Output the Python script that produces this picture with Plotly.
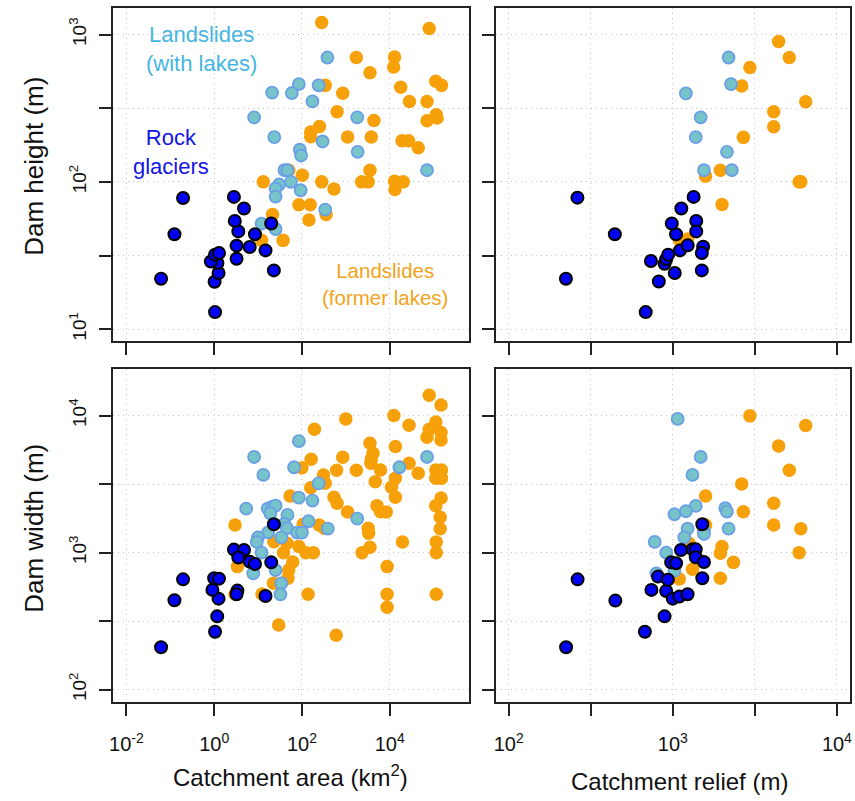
import numpy as np
import plotly.graph_objects as go

# ---------------- data (log10 of values) ----------------
# Top-left: dam height (m) vs catchment area (km2)
tl_rock_area = [-1.21, -0.905, -0.709, 0.02, 0.01, 0.10, 0.075, -0.075, 0.02, 0.11, 0.51,
                0.51, 0.55, 0.47, 0.45, 0.68, 0.81, 0.93, 1.17, 1.30, 1.36]
tl_rock_height = [1.342, 1.644, 1.891, 1.116, 1.322, 1.381, 1.449, 1.460, 1.506, 1.517, 1.478,
                  1.567, 1.664, 1.735, 1.898, 1.819, 1.558, 1.644, 1.535, 1.717, 1.399]
tl_lake_area = [2.58, 1.93, 2.38, 1.32, 1.77, 2.24, 0.91, 3.26, 1.37, 2.47, 3.27, 1.95, 1.98,
                1.60, 1.67, 4.85, 1.75, 1.48, 1.40, 1.97, 1.40, 2.53, 1.08, 1.40]
tl_lake_height = [2.844, 2.664, 2.655, 2.605, 2.603, 2.546, 2.438, 2.438, 2.304, 2.274, 2.204,
                  2.218, 2.179, 2.079, 2.079, 2.079, 2.0, 1.982, 1.955, 1.943, 1.900, 1.812,
                  1.717, 1.680]
tl_former_area = [2.45, 4.90, 3.24, 4.11, 4.09, 3.55, 2.53, 5.05, 5.18, 4.25, 2.93, 4.45, 4.85,
                  2.80, 5.06, 5.08, 4.85, 3.64, 2.40, 2.20, 2.20, 3.04, 3.58, 4.28, 4.43, 4.65,
                  3.55, 1.70, 2.01, 1.12, 2.45, 3.36, 3.51, 4.11, 4.31, 4.12, 2.73, 1.93, 2.19,
                  2.55, 2.16, 1.33, 1.57, 1.08]
tl_former_height = [3.082, 3.041, 2.844, 2.848, 2.780, 2.741, 2.655, 2.683, 2.655, 2.642, 2.601,
                    2.546, 2.546, 2.476, 2.456, 2.433, 2.415, 2.417, 2.376, 2.338, 2.306, 2.304,
                    2.304, 2.279, 2.279, 2.231, 2.079, 2.079, 2.045, 2.0, 2.0, 2.0, 2.0, 2.005,
                    2.0, 1.948, 1.952, 1.844, 1.844, 1.778, 1.741, 1.778, 1.603, 1.603]

# Top-right: dam height (m) vs catchment relief (m)
tr_rock_relief = [2.419, 2.647, 2.349, 2.835, 2.915, 2.867, 2.950, 2.960, 2.972, 3.012, 3.044,
                  3.091, 3.020, 2.994, 3.052, 3.127, 3.143, 3.143, 3.185, 3.177, 3.177]
tr_rock_height = [1.893, 1.644, 1.342, 1.116, 1.324, 1.463, 1.444, 1.476, 1.506, 1.381, 1.535,
                  1.569, 1.644, 1.717, 1.819, 1.898, 1.735, 1.664, 1.560, 1.517, 1.399]
tr_lake_relief = [3.34, 3.355, 3.08, 3.17, 3.14, 3.33, 3.19, 3.36]
tr_lake_height = [2.844, 2.664, 2.601, 2.438, 2.304, 2.204, 2.079, 2.079]
tr_former_relief = [3.645, 3.71, 3.47, 3.42, 3.81, 3.615, 3.615, 3.43, 3.29, 3.20, 3.77, 3.78,
                    3.30, 3.04, 3.09]
tr_former_height = [2.952, 2.844, 2.776, 2.651, 2.544, 2.476, 2.374, 2.302, 2.079, 2.039, 2.0,
                    2.0, 1.846, 1.608, 1.612]

# Bottom-left: dam width (m) vs catchment area (km2)
bl_rock_area = [-1.21, -0.905, -0.709, 0.02, 0.07, 0.10, -0.04, 0.0, 0.11, 0.53, 0.51, 0.45,
                0.68, 0.55, 0.81, 0.93, 1.17, 1.30, 1.36]
bl_rock_width = [2.309, 2.652, 2.805, 2.423, 2.535, 2.664, 2.728, 2.813, 2.810, 2.723, 2.696,
                 3.022, 3.019, 2.964, 2.934, 2.917, 2.684, 2.929, 3.207]
bl_lake_area = [1.93, 0.91, 1.12, 1.82, 2.38, 4.85, 4.22, 1.93, 2.24, 0.73, 1.22, 1.33, 1.40,
                1.28, 1.67, 3.26, 1.60, 2.15, 1.66, 2.59, 1.23, 1.89, 2.0, 1.00, 1.53, 0.97,
                1.08, 0.89, 1.40, 1.53, 1.51]
bl_lake_width = [3.813, 3.698, 3.567, 3.623, 3.506, 3.698, 3.623, 3.401, 3.380, 3.321, 3.321,
                 3.336, 3.343, 3.287, 3.275, 3.248, 3.209, 3.229, 3.178, 3.175, 3.148, 3.146,
                 3.146, 3.112, 3.112, 3.078, 3.0, 2.849, 2.873, 2.776, 2.696]
bl_former_area = [4.90, 5.17, 4.095, 3.00, 2.285, 4.44, 5.05, 4.90, 5.17, 4.85, 5.17, 3.55,
                  4.13, 3.62, 3.58, 3.57, 3.79, 2.93, 2.21, 2.00, 2.79, 3.24, 2.49, 2.53, 4.13,
                  4.44, 4.65, 5.05, 5.18, 5.05, 5.18, 3.67, 4.04, 4.13, 2.20, 1.73, 2.73, 2.80,
                  3.04, 3.71, 3.79, 3.92, 5.17, 5.05, 5.15, 5.15, 0.475, 2.03, 2.39, 2.51, 3.51,
                  3.52, 1.36, 1.66, 1.58, 1.93, 2.09, 2.26, 3.55, 3.37, 4.29, 5.06, 5.06, 1.79,
                  1.70, 1.68, 1.35, 0.53, 1.09, 0.475, 2.14, 3.94, 3.94, 3.94, 5.06, 1.47, 2.78]
bl_former_width = [4.148, 4.078, 4.0, 3.976, 3.900, 3.929, 3.954, 3.900, 3.876, 3.842, 3.822,
                   3.798, 3.774, 3.725, 3.684, 3.652, 3.603, 3.696, 3.681, 3.620, 3.601, 3.601,
                   3.567, 3.506, 3.543, 3.652, 3.579, 3.603, 3.603, 3.543, 3.543, 3.518, 3.477,
                   3.404, 3.474, 3.414, 3.404, 3.360, 3.297, 3.343, 3.299, 3.297, 3.399, 3.343,
                   3.258, 3.175, 3.202, 3.207, 3.202, 3.178, 3.178, 3.141, 3.080, 3.068, 3.0,
                   3.044, 3.0, 3.0, 3.039, 3.0, 3.078, 3.078, 3.0, 2.932, 2.873, 2.813, 2.776,
                   2.898, 2.698, 2.696, 2.696, 2.898, 2.696, 2.601, 2.696, 2.472, 2.397]

# Bottom-right: dam width (m) vs catchment relief (m)
br_rock_relief = [2.35, 2.42, 2.65, 2.83, 2.95, 2.87, 2.96, 3.0, 3.04, 3.09, 2.91, 2.97, 2.99,
                  3.02, 3.05, 3.12, 3.14, 3.14, 3.19, 3.18, 3.18]
br_rock_width = [2.309, 2.805, 2.650, 2.423, 2.535, 2.728, 2.720, 2.664, 2.679, 2.696, 2.825,
                 2.803, 2.929, 2.922, 3.019, 3.024, 3.024, 2.966, 2.932, 2.813, 3.207]
br_lake_relief = [3.03, 3.17, 3.12, 3.14, 3.08, 3.01, 3.32, 3.33, 3.34, 3.09, 3.19, 3.19, 3.07,
                  2.89, 2.96, 2.90, 3.01]
br_lake_width = [3.976, 3.698, 3.567, 3.341, 3.302, 3.280, 3.324, 3.299, 3.175, 3.175, 3.161,
                 3.136, 3.112, 3.078, 3.0, 2.849, 2.869]
br_former_relief = [3.47, 3.81, 3.645, 3.71, 3.42, 3.20, 3.615, 3.43, 3.615, 3.78, 3.20, 3.10,
                    3.30, 3.29, 3.77, 3.37, 3.12, 3.29, 3.04]
br_former_width = [3.998, 3.927, 3.779, 3.601, 3.501, 3.414, 3.360, 3.299, 3.202, 3.175, 3.202,
                   3.068, 3.044, 2.995, 3.0, 2.929, 2.878, 2.813, 2.808]

# tick labels (major, labelled) and unlabelled half-decade ticks (log10)
area_ticks = [-2, 0, 2, 4]
area_ticktext = ["10<sup>-2</sup>", "10<sup>0</sup>", "10<sup>2</sup>", "10<sup>4</sup>"]
area_minor = []
relief_ticks = [2, 3, 4]
relief_ticktext = ["10<sup>2</sup>", "10<sup>3</sup>", "10<sup>4</sup>"]
relief_minor = [2.5, 3.5]
height_ticks = [1, 2, 3]
height_ticktext = ["10<sup>1</sup>", "10<sup>2</sup>", "10<sup>3</sup>"]
height_minor = [1.5, 2.5]
width_ticks = [2, 3, 4]
width_ticktext = ["10<sup>2</sup>", "10<sup>3</sup>", "10<sup>4</sup>"]
width_minor = [2.5, 3.5]

# ---------------- styles ----------------
ORANGE = "#F7A10A"
LAKE_FILL = "#76C3C9"
LAKE_LINE = "#6A9FE6"
ROCK_FILL = "#0000F5"
W, H = 855, 801

def pw(v):
    return np.power(10.0, np.array(v, dtype=float))

fig = go.Figure()

panels = [
    ("x", "y", tl_former_area, tl_former_height, tl_lake_area, tl_lake_height, tl_rock_area, tl_rock_height),
    ("x2", "y2", tr_former_relief, tr_former_height, tr_lake_relief, tr_lake_height, tr_rock_relief, tr_rock_height),
    ("x3", "y3", bl_former_area, bl_former_width, bl_lake_area, bl_lake_width, bl_rock_area, bl_rock_width),
    ("x4", "y4", br_former_relief, br_former_width, br_lake_relief, br_lake_width, br_rock_relief, br_rock_width),
]
for xa, ya, fx, fy, lx, ly, rx, ry in panels:
    fig.add_trace(go.Scatter(x=pw(fx), y=pw(fy), xaxis=xa, yaxis=ya, mode="markers",
                             marker=dict(size=13.5, color=ORANGE, line=dict(width=0)),
                             showlegend=False, hoverinfo="skip"))
    fig.add_trace(go.Scatter(x=pw(lx), y=pw(ly), xaxis=xa, yaxis=ya, mode="markers",
                             marker=dict(size=12, color=LAKE_FILL, line=dict(width=1.8, color=LAKE_LINE)),
                             showlegend=False, hoverinfo="skip"))
    fig.add_trace(go.Scatter(x=pw(rx), y=pw(ry), xaxis=xa, yaxis=ya, mode="markers",
                             marker=dict(size=12, color=ROCK_FILL, line=dict(width=2, color="black")),
                             showlegend=False, hoverinfo="skip"))

# domains from pixel boxes
def xd(a, b):
    return [a / W, b / W]

def yd(top, bot):
    return [1 - bot / H, 1 - top / H]

SANS = "Liberation Sans, Arial, Helvetica, sans-serif"
TICKFONT = dict(family=SANS, size=20, color="#111")
YTICKFONT = dict(family=SANS, size=19, color="#111")
GRID = dict(showgrid=True, gridcolor="#C4C4C4", griddash="1px,4px", gridwidth=1.3)
TICK = dict(ticks="outside", ticklen=12, tickwidth=1.5, tickcolor="#222")

common = dict(type="log", showline=True, linecolor="#222", linewidth=1.8, mirror=True,
              zeroline=False, **TICK, **GRID)

def minor(vals):
    if not vals:
        return dict(ticks="", showgrid=False)
    d = dict(tickvals=pw(vals))
    d.update(TICK)
    d.update(GRID)
    return d

def xaxis(domain, rng, tv, tt, mv, anchor, labels):
    d = dict(common)
    d.update(domain=domain, range=rng, tickvals=pw(tv), ticktext=tt, anchor=anchor,
             showticklabels=labels, tickfont=TICKFONT, ticklabelstandoff=11, minor=minor(mv))
    return d

def yaxis(domain, rng, tv, tt, mv, anchor, labels):
    d = dict(common)
    d.update(domain=domain, range=rng, tickvals=pw(tv), ticktext=tt, anchor=anchor,
             showticklabels=labels, tickfont=YTICKFONT, tickangle=-90, ticklabelstandoff=6,
             minor=minor(mv))
    return d

left_x = xd(110, 468)
right_x = xd(495, 852)
top_y = yd(8, 341)
bot_y = yd(369, 702)

fig.update_layout(
    width=W, height=H, margin=dict(l=0, r=0, t=0, b=0),
    paper_bgcolor="white", plot_bgcolor="white", showlegend=False,
    xaxis=xaxis(left_x, [-2.3, 5.8], area_ticks, area_ticktext, area_minor, "y", False),
    yaxis=yaxis(top_y, [0.92, 3.18], height_ticks, height_ticktext, height_minor, "x", True),
    xaxis2=xaxis(right_x, [1.92, 4.08], relief_ticks, relief_ticktext, relief_minor, "y2", False),
    yaxis2=yaxis(top_y, [0.92, 3.18], height_ticks, height_ticktext, height_minor, "x2", False),
    xaxis3=xaxis(left_x, [-2.3, 5.8], area_ticks, area_ticktext, area_minor, "y3", True),
    yaxis3=yaxis(bot_y, [1.91, 4.34], width_ticks, width_ticktext, width_minor, "x3", True),
    xaxis4=xaxis(right_x, [1.92, 4.08], relief_ticks, relief_ticktext, relief_minor, "y4", True),
    yaxis4=yaxis(bot_y, [1.91, 4.34], width_ticks, width_ticktext, width_minor, "x4", False),
)

annots = [
    dict(text="Landslides<br>(with lakes)", x=199 / W, y=1 - 49 / H, font=dict(family=SANS, size=22, color="#45B5E2")),
    dict(text="Rock<br>glaciers", x=168 / W, y=1 - 152 / H, font=dict(family=SANS, size=22, color="#1414E6")),
    dict(text="Landslides<br>(former lakes)", x=384 / W, y=1 - 284 / H, font=dict(family=SANS, size=20.5, color="#F5A21A")),
    dict(text="Dam height (m)", x=30 / W, y=1 - 166 / H, textangle=-90, font=dict(family=SANS, size=26, color="#111")),
    dict(text="Dam width (m)", x=30 / W, y=1 - 528 / H, textangle=-90, font=dict(family=SANS, size=26, color="#111")),
    dict(text="Catchment area (km<sup>2</sup>)", x=289 / W, y=1 - 776 / H, font=dict(family=SANS, size=24, color="#111")),
    dict(text="Catchment relief (m)", x=680 / W, y=1 - 781 / H, font=dict(family=SANS, size=24, color="#111")),
]
for a in annots:
    a.update(xref="paper", yref="paper", showarrow=False, xanchor="center", yanchor="middle")
fig.update_layout(annotations=annots)

fig.write_html("out.html")
